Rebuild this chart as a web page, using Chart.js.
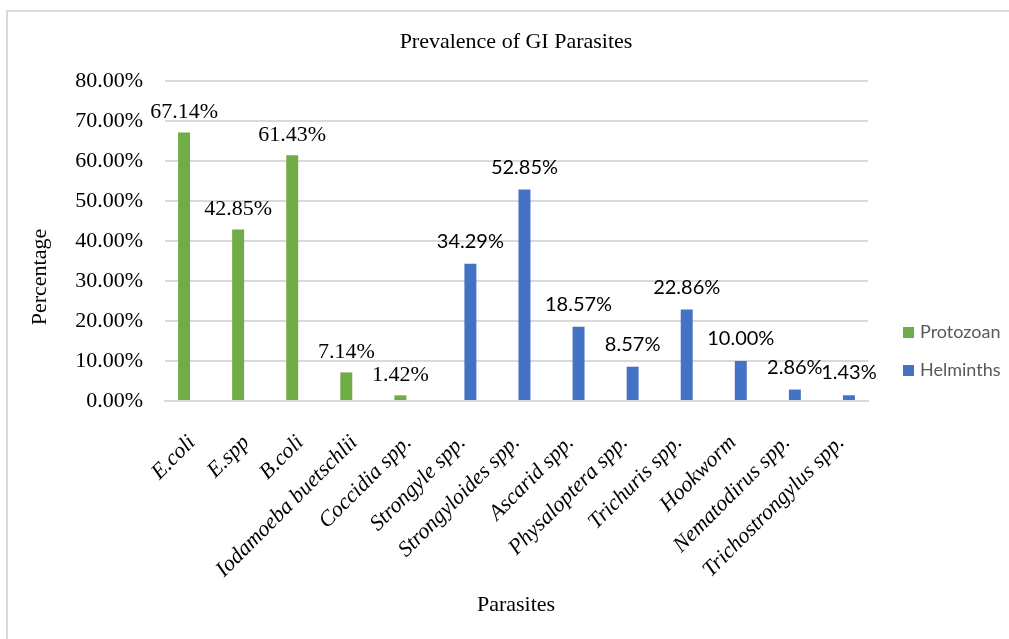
<!DOCTYPE html>
<html>
<head>
<meta charset="utf-8">
<script src="https://cdn.jsdelivr.net/npm/chart.js@4.4.1/dist/chart.umd.min.js"></script>
<style>
  html, body { margin: 0; padding: 0; background: #ffffff; }
  #c { display: block; }
</style>
</head>
<body>
<canvas id="c" width="1009" height="639"></canvas>
<script>
const categories = ['E.coli', 'E.spp', 'B.coli', 'Iodamoeba buetschlii', 'Coccidia spp.', 'Strongyle spp.', 'Strongyloides spp.', 'Ascarid spp.', 'Physaloptera spp.', 'Trichuris spp.', 'Hookworm', 'Nematodirus spp.', 'Trichostrongylus spp.'];
const protozoan = [67.14, 42.85, 61.43, 7.14, 1.42, null, null, null, null, null, null, null, null];
const helminths = [null, null, null, null, null, 34.29, 52.85, 18.57, 8.57, 22.86, 10.00, 2.86, 1.43];
const seriesNames = ['Protozoan', 'Helminths'];
const yTicks = [0, 10, 20, 30, 40, 50, 60, 70, 80];

const GREEN = '#70ad47';
const BLUE = '#4472c4';
const SERIF = '"Liberation Serif", "Times New Roman", serif';
const SANS = 'Lato, "Liberation Sans", sans-serif';

const decorPlugin = {
  id: 'decor',
  beforeDraw(chart) {
    const ctx = chart.ctx;
    ctx.save();
    ctx.fillStyle = '#ffffff';
    ctx.fillRect(0, 0, chart.width, chart.height);
    ctx.strokeStyle = '#d9d9d9';
    ctx.lineWidth = 2;
    ctx.beginPath();
    ctx.moveTo(6, 11); ctx.lineTo(chart.width, 11);
    ctx.moveTo(7, 10); ctx.lineTo(7, chart.height);
    ctx.stroke();
    ctx.restore();
  },
  afterDraw(chart) {
    const ctx = chart.ctx;
    ctx.save();
    ctx.fillStyle = '#000000';
    ctx.font = '22px ' + SERIF;
    ctx.textAlign = 'center';
    ctx.textBaseline = 'middle';
    ctx.fillText('Prevalence of GI Parasites', 516, 42);
    ctx.fillText('Parasites', 516, 605);
    ctx.save();
    ctx.translate(40, 277);
    ctx.rotate(-Math.PI / 2);
    ctx.fillText('Percentage', 0, 0);
    ctx.restore();
    chart.data.datasets.forEach((ds, di) => {
      const meta = chart.getDatasetMeta(di);
      meta.data.forEach((bar, i) => {
        const v = ds.data[i];
        if (v === null || v === undefined) return;
        ctx.textAlign = 'center';
        ctx.textBaseline = 'alphabetic';
        ctx.fillStyle = '#000000';
        if (di === 0) {
          ctx.font = '22px ' + SERIF;
          ctx.fillText(v.toFixed(2) + '%', bar.x, bar.y - 14.5);
        } else {
          ctx.font = '20px ' + SANS;
          ctx.fillText(v.toFixed(2) + '%', bar.x, bar.y - 16);
        }
      });
    });
    const legendItems = [
      { name: seriesNames[0], color: GREEN, y: 332.5 },
      { name: seriesNames[1], color: BLUE, y: 370.5 }
    ];
    legendItems.forEach(it => {
      ctx.fillStyle = it.color;
      ctx.fillRect(903, it.y - 5.5, 11, 11);
      ctx.fillStyle = '#595959';
      ctx.font = '18px ' + SANS;
      ctx.textAlign = 'left';
      ctx.textBaseline = 'middle';
      ctx.fillText(it.name, 920, it.y);
    });
    ctx.restore();
  }
};

new Chart(document.getElementById('c'), {
  type: 'bar',
  data: {
    labels: categories,
    datasets: [
      { label: seriesNames[0], data: protozoan, backgroundColor: GREEN, categoryPercentage: 0.59, barPercentage: 0.75 },
      { label: seriesNames[1], data: helminths, backgroundColor: BLUE, categoryPercentage: 0.59, barPercentage: 0.75 }
    ]
  },
  options: {
    responsive: false,
    devicePixelRatio: 1,
    animation: false,
    layout: { padding: { left: 0, top: 81, right: 141, bottom: 0 } },
    plugins: {
      legend: { display: false },
      title: { display: false },
      tooltip: { enabled: false }
    },
    scales: {
      x: {
        grid: { display: false, drawTicks: false },
        border: { display: true, color: '#d9d9d9', width: 2 },
        ticks: {
          autoSkip: false,
          maxRotation: 45,
          minRotation: 45,
          padding: 29,
          color: '#000000',
          font: { family: SERIF, size: 22, style: 'italic' }
        },
        afterFit(scale) { scale.height = 238; }
      },
      y: {
        min: 0,
        max: 80,
        afterBuildTicks(scale) { scale.ticks = yTicks.map(v => ({ value: v })); },
        grid: { color: '#d9d9d9', lineWidth: 2, drawTicks: false },
        border: { display: false },
        ticks: {
          padding: 22,
          color: '#000000',
          font: { family: SERIF, size: 22 },
          callback: (v) => Number(v).toFixed(2) + '%'
        },
        afterFit(scale) { scale.width = 165; }
      }
    }
  },
  plugins: [decorPlugin]
});
</script>
</body>
</html>
